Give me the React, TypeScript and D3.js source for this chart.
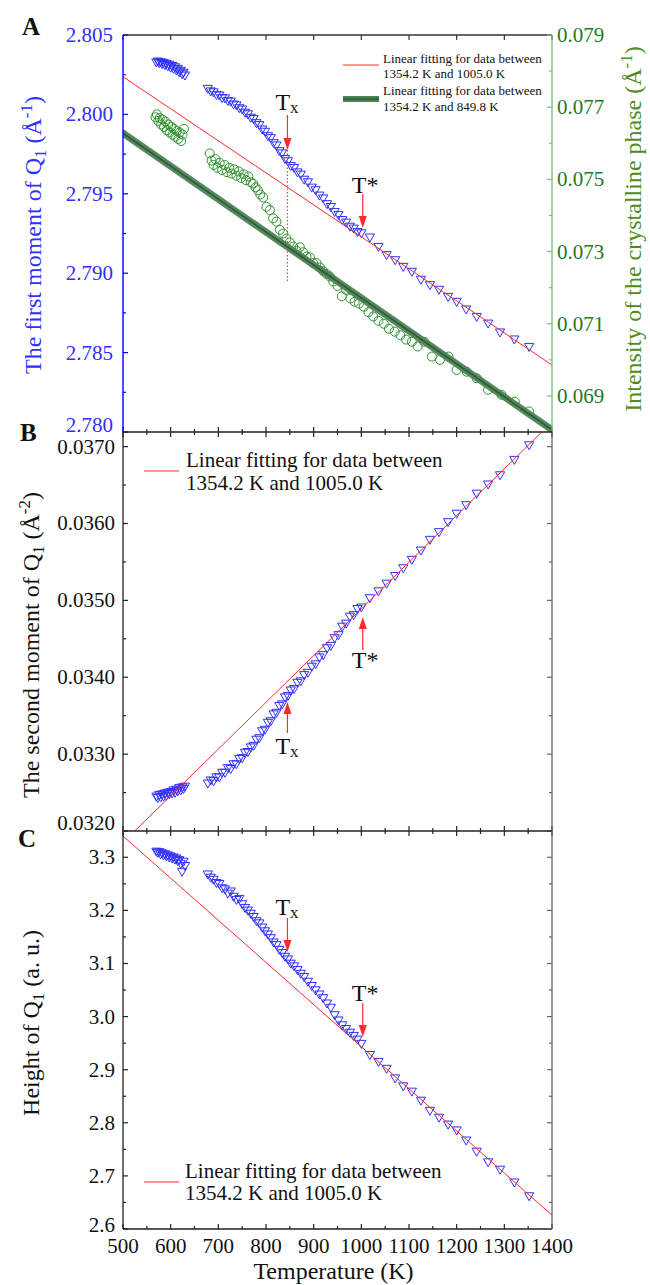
import React from 'react';
import * as d3 from 'd3';

// ---------------- DATA ----------------
// Temperatures (K) of the Q1 measurements (shared by panels A, B, C)
const tempsLow = [570, 573, 576, 579, 582, 585, 588, 591, 594, 597, 600, 603, 606, 609, 612, 615, 618, 621, 624, 627, 630];
const tempsMid = [678, 684, 690, 696, 702, 708, 714, 720, 726, 732, 738, 744, 750, 756, 762, 768, 774, 780, 786, 792, 798, 804, 810, 816, 822, 828, 834, 840, 846, 852, 859, 866, 873, 880, 888, 896, 904, 912, 920, 928, 936, 944, 952, 960, 968, 976, 984, 992, 1000];
const tempsHigh = [1018, 1036, 1053, 1071, 1088, 1106, 1125, 1144, 1163, 1182, 1200, 1220, 1242, 1266, 1291, 1321, 1352];

// Panel A: first moment of Q1 (1/Å)
const firstMomentLow = [2.80328, 2.80334, 2.80324, 2.8033, 2.80318, 2.80326, 2.80312, 2.8032, 2.80304, 2.80314, 2.80296, 2.80306, 2.80288, 2.80298, 2.80278, 2.80288, 2.80266, 2.80276, 2.80254, 2.80264, 2.80246];
const firstMomentMid = [2.80162, 2.80146, 2.8014, 2.80124, 2.8012, 2.80104, 2.80102, 2.80086, 2.80082, 2.80064, 2.80058, 2.8004, 2.80032, 2.80012, 2.80002, 2.7998, 2.79972, 2.79946, 2.79934, 2.79906, 2.79892, 2.79864, 2.79852, 2.7982, 2.79806, 2.7977, 2.79756, 2.7972, 2.79706, 2.79676, 2.79664, 2.79636, 2.79622, 2.7959, 2.79574, 2.7954, 2.79524, 2.7949, 2.79472, 2.79436, 2.79418, 2.79386, 2.79368, 2.79336, 2.7932, 2.79294, 2.79282, 2.7926, 2.79252];
const firstMomentHigh = [2.79226, 2.79167, 2.79115, 2.79083, 2.79041, 2.7901, 2.7896, 2.78926, 2.78897, 2.78852, 2.78821, 2.78773, 2.78726, 2.78684, 2.78628, 2.78584, 2.78537];

// Panel A (right axis): intensity of the crystalline phase
const crystalTemps = [568, 571, 574, 577, 580, 583, 586, 589, 592, 595, 598, 601, 604, 607, 610, 613, 616, 619, 622, 625, 628,
  682, 686, 690, 694, 698, 703, 708, 713, 718, 723, 728, 733, 738, 743, 748, 753, 758, 763, 768, 773, 778, 783, 788, 794,
  801, 808, 815, 822, 829, 836, 843, 850, 857, 864, 871, 878, 885, 892, 899, 906, 913, 920, 927, 934, 941, 950, 959, 968,
  977, 986, 995, 1005, 1015, 1025, 1036, 1047, 1058, 1070, 1082, 1094, 1106, 1118, 1132, 1148, 1165, 1183, 1200, 1221,
  1242, 1266, 1294, 1322, 1352];
const crystalIntensity = [0.07672, 0.0768, 0.07662, 0.0767, 0.07652, 0.07666, 0.07645, 0.0766, 0.07636, 0.07652, 0.0763, 0.07646, 0.07624, 0.0764, 0.07618, 0.07634, 0.07612, 0.0763, 0.07606, 0.07624, 0.0764,
  0.07572, 0.07552, 0.0754, 0.07556, 0.07532, 0.07546, 0.07526, 0.0754, 0.0752, 0.07532, 0.07516, 0.07528, 0.0751, 0.07522, 0.07504, 0.07514, 0.07498, 0.07508, 0.07492, 0.07488, 0.07478, 0.0747, 0.07458, 0.0745,
  0.07424, 0.07415, 0.07392, 0.07383, 0.0736, 0.0735, 0.07336, 0.07325, 0.07314, 0.07302, 0.07312, 0.07298, 0.07286, 0.07284, 0.07268, 0.07268, 0.07256, 0.07246, 0.07238, 0.07231, 0.07217, 0.07205, 0.07176, 0.07194,
  0.0717, 0.07161, 0.07156, 0.07147, 0.07132, 0.0712, 0.07108, 0.071, 0.07086, 0.07078, 0.07068, 0.07056, 0.0705, 0.07037, 0.0705, 0.07009, 0.07, 0.07009, 0.06972, 0.06967,
  0.06949, 0.06917, 0.06903, 0.06884, 0.06857];

// Panel B: second moment of Q1 (1/Å^2)
const secondMomentLow = [0.03245, 0.03243, 0.03247, 0.03244, 0.03248, 0.03245, 0.03249, 0.03246, 0.0325, 0.03248, 0.03251, 0.03249, 0.03253, 0.0325, 0.03254, 0.03252, 0.03256, 0.03253, 0.03257, 0.03255, 0.03258];
const secondMomentMid = [0.03262, 0.03266, 0.03265, 0.0327, 0.0327, 0.03276, 0.03276, 0.03282, 0.03281, 0.03287, 0.03287, 0.03294, 0.03295, 0.03302, 0.03303, 0.03309, 0.03311, 0.03319, 0.03321, 0.0333, 0.03332, 0.03341, 0.03343, 0.03352, 0.03354, 0.03363, 0.03365, 0.03374, 0.03376, 0.03383, 0.03385, 0.03393, 0.03395, 0.03403, 0.03406, 0.03414, 0.03417, 0.03426, 0.03429, 0.03438, 0.03441, 0.03451, 0.03455, 0.03466, 0.0347, 0.03479, 0.03481, 0.03489, 0.03491];
const secondMomentHigh = [0.03503, 0.03512, 0.03522, 0.03532, 0.03542, 0.03553, 0.03565, 0.03579, 0.03589, 0.03602, 0.03613, 0.03624, 0.03639, 0.03651, 0.03663, 0.03683, 0.03702];

// Panel C: height of Q1 (a.u.)
const heightLow = [3.311, 3.309, 3.31, 3.306, 3.308, 3.304, 3.306, 3.302, 3.304, 3.3, 3.302, 3.298, 3.3, 3.296, 3.298, 3.293, 3.295, 3.288, 3.273, 3.292, 3.284];
const heightMid = [3.268, 3.262, 3.258, 3.252, 3.25, 3.242, 3.24, 3.232, 3.236, 3.226, 3.22, 3.222, 3.212, 3.205, 3.2, 3.194, 3.188, 3.18, 3.176, 3.168, 3.161, 3.155, 3.148, 3.14, 3.135, 3.126, 3.12, 3.113, 3.108, 3.1, 3.095, 3.088, 3.081, 3.075, 3.066, 3.058, 3.05, 3.042, 3.035, 3.025, 3.017, 3.003, 2.993, 2.984, 2.977, 2.97, 2.964, 2.957, 2.949];
const heightHigh = [2.928, 2.915, 2.902, 2.884, 2.869, 2.859, 2.842, 2.823, 2.81, 2.797, 2.786, 2.767, 2.746, 2.726, 2.712, 2.688, 2.662];

// Linear fits (end points at 500 K and 1400 K)
const fitFirstMoment: [number, number][] = [[500, 2.80237], [1400, 2.78422]];
const fitCrystal: [number, number][] = [[500, 0.07628], [1400, 0.06806]];
const fitSecondMoment: [number, number][] = [[500, 0.03185], [1400, 0.03732]];
const fitHeight: [number, number][] = [[500, 3.34], [1400, 2.626]];

// Characteristic temperatures
const T_X = 845;
const T_STAR = 1003;

// Tick labels
const tempTicks = [500, 600, 700, 800, 900, 1000, 1100, 1200, 1300, 1400];
const firstMomentTicks = [2.78, 2.785, 2.79, 2.795, 2.8, 2.805];
const crystalTicks = [0.069, 0.071, 0.073, 0.075, 0.077, 0.079];
const secondMomentTicks = [0.032, 0.033, 0.034, 0.035, 0.036, 0.037];
const heightTicks = [2.6, 2.7, 2.8, 2.9, 3.0, 3.1, 3.2, 3.3];

// ---------------- LAYOUT ----------------
const W = 650, H = 1285;
const X0 = 123, X1 = 552;
const FONT = "'Liberation Serif', 'Times New Roman', serif";
const BLUE = '#2f2fff';
const RED = '#ff2a2a';
const GREEN_MARK = '#2f932f';
const GREEN_LABEL = '#1f7a1f';
const GREEN_TITLE = '#4d8c1e';
const GREEN_AXIS = '#7dbf7d';

const temps = [...tempsLow, ...tempsMid, ...tempsHigh];
const pair = (ts: number[], vs: number[]) => ts.slice(0, Math.min(ts.length, vs.length)).map((t, i) => [t, vs[i]] as [number, number]);

function mids(ticks: number[]) {
  const out: number[] = [];
  for (let i = 0; i < ticks.length - 1; i++) out.push((ticks[i] + ticks[i + 1]) / 2);
  return out;
}

function XTicks({ x, y, dir, minor, color = '#222' }: any) {
  const majors = tempTicks;
  const minors = minor ? mids(tempTicks) : [];
  return (
    <g stroke={color} strokeWidth={1.2}>
      {majors.map((t) => <line key={'M' + t} x1={x(t)} x2={x(t)} y1={y} y2={y + dir * 5} />)}
      {minors.map((t) => <line key={'m' + t} x1={x(t)} x2={x(t)} y1={y} y2={y + dir * 3} />)}
    </g>
  );
}

function YTicks({ scale, xPos, dir, majors, minors, color }: any) {
  return (
    <g stroke={color} strokeWidth={1.2}>
      {majors.map((v: number) => <line key={'M' + v} x1={xPos} x2={xPos + dir * 5} y1={scale(v)} y2={scale(v)} />)}
      {minors.map((v: number) => <line key={'m' + v} x1={xPos} x2={xPos + dir * 3} y1={scale(v)} y2={scale(v)} />)}
    </g>
  );
}

function Arrow({ x, y1, y2 }: any) {
  const dir = Math.sign(y2 - y1);
  const hl = 12;
  return (
    <g>
      <line x1={x} x2={x} y1={y1} y2={y2 - dir * hl} stroke={RED} strokeWidth={1.2} />
      <path d={`M${x - 4},${y2 - dir * hl}L${x + 4},${y2 - dir * hl}L${x},${y2}Z`} fill={RED} />
    </g>
  );
}

function TLabel({ x, y, kind }: any) {
  if (kind === 'x') {
    return (
      <text x={x - 12} y={y} fontFamily={FONT} fontSize={24} fill="#111">
        T<tspan fontSize={17} dy={3}>x</tspan>
      </text>
    );
  }
  return (
    <text x={x - 11} y={y} fontFamily={FONT} fontSize={24} fill="#111">T*</text>
  );
}

const tri = (cx: number, cy: number) => `M${cx - 4.6},${cy - 3.3}L${cx + 4.6},${cy - 3.3}L${cx},${cy + 4.7}Z`;

function Triangles({ data, x, y, clip }: any) {
  return (
    <g clipPath={clip} fill="none" stroke={BLUE} strokeWidth={1}>
      {data.map((d: [number, number], i: number) => <path key={i} d={tri(x(d[0]), y(d[1]))} />)}
    </g>
  );
}

export default function App() {
  const x = d3.scaleLinear().domain([500, 1400]).range([X0, X1]);
  const yA = d3.scaleLinear().domain([2.78, 2.805]).range([432, 35]);
  const yAR = d3.scaleLinear().domain([0.068, 0.079]).range([432, 35]);
  const yB = d3.scaleLinear().domain([0.032, 0.03719]).range([831, 432]);
  const yC = d3.scaleLinear().domain([2.6, 3.3495]).range([1229, 831]);

  const dataA = pair(temps, [...firstMomentLow, ...firstMomentMid, ...firstMomentHigh]);
  const dataB = pair(temps, [...secondMomentLow, ...secondMomentMid, ...secondMomentHigh]);
  const dataC = pair(temps, [...heightLow, ...heightMid, ...heightHigh]);
  const dataG = pair(crystalTemps, crystalIntensity);

  const lineA = d3.line<[number, number]>().x((d) => x(d[0])).y((d) => yA(d[1]));
  const lineAR = d3.line<[number, number]>().x((d) => x(d[0])).y((d) => yAR(d[1]));
  const lineB = d3.line<[number, number]>().x((d) => x(d[0])).y((d) => yB(d[1]));
  const lineC = d3.line<[number, number]>().x((d) => x(d[0])).y((d) => yC(d[1]));

  const fA = d3.format('.3f');
  const fB = d3.format('.4f');
  const fC = d3.format('.1f');

  const tickText = { fontFamily: FONT, fontSize: 21 } as any;

  return (
    <svg width={W} height={H} style={{ position: 'absolute', left: 0, top: 0, background: '#fff' }}>
      <defs>
        <clipPath id="clipA"><rect x={X0} y={35} width={X1 - X0} height={397} /></clipPath>
        <clipPath id="clipB"><rect x={X0} y={432} width={X1 - X0} height={399} /></clipPath>
        <clipPath id="clipC"><rect x={X0} y={831} width={X1 - X0} height={398} /></clipPath>
      </defs>
      <rect x={0} y={0} width={W} height={H} fill="#fff" />

      {/* ============ PANEL A ============ */}
      <g clipPath="url(#clipA)" fill="none" stroke={GREEN_MARK} strokeWidth={1}>
        {dataG.map((d, i) => <circle key={i} cx={x(d[0])} cy={yAR(d[1])} r={4.5} />)}
      </g>
      <Triangles data={dataA} x={x} y={yA} clip="url(#clipA)" />
      <g clipPath="url(#clipA)">
        <path d={lineAR(fitCrystal) || ''} stroke="#4c8256" strokeWidth={7} strokeLinecap="round" fill="none" opacity={0.95} />
        <path d={lineAR(fitCrystal) || ''} stroke="#2c5a34" strokeWidth={1.6} fill="none" />
        <path d={lineA(fitFirstMoment) || ''} stroke={RED} strokeWidth={1} fill="none" />
      </g>
      {/* Tx dotted guide */}
      <line x1={x(T_X)} x2={x(T_X)} y1={150} y2={283} stroke="#ff4040" strokeWidth={1.2} strokeDasharray="1.5,2" />
      <Arrow x={x(T_X)} y1={115} y2={150} />
      <TLabel x={x(T_X)} y={110} kind="x" />
      <Arrow x={x(T_STAR)} y1={194} y2={228} />
      <TLabel x={x(T_STAR)} y={193} kind="s" />

      {/* legend A */}
      <line x1={343} x2={379} y1={65} y2={65} stroke={RED} strokeWidth={1} />
      <text x={383} y={63} fontFamily={FONT} fontSize={13} fill="#111">Linear fitting for data between</text>
      <text x={383} y={78} fontFamily={FONT} fontSize={13} fill="#111">1354.2 K and 1005.0 K</text>
      <line x1={343} x2={379} y1={99} y2={99} stroke="#4c8256" strokeWidth={6} />
      <line x1={343} x2={379} y1={99} y2={99} stroke="#2c5a34" strokeWidth={1.5} />
      <text x={383} y={95} fontFamily={FONT} fontSize={13} fill="#111">Linear fitting for data between</text>
      <text x={383} y={111} fontFamily={FONT} fontSize={13} fill="#111">1354.2 K and 849.8 K</text>

      {/* axes A */}
      <line x1={X0} x2={X1} y1={35} y2={35} stroke="#333" strokeWidth={1.3} />
      <XTicks x={x} y={35} dir={1} minor={false} color="#333" />
      <XTicks x={x} y={432} dir={-1} minor={true} />
      <line x1={X0} x2={X0} y1={35} y2={432} stroke="#0000ff" strokeWidth={1.4} />
      <YTicks scale={yA} xPos={X0} dir={1} majors={firstMomentTicks} minors={mids(firstMomentTicks)} color="#0000ff" />
      <line x1={X1} x2={X1} y1={35} y2={432} stroke={GREEN_AXIS} strokeWidth={1.4} />
      <YTicks scale={yAR} xPos={X1} dir={-1} majors={crystalTicks} minors={mids(crystalTicks)} color={GREEN_AXIS} />
      {firstMomentTicks.map((v, i) => (
        <text key={v} x={113} y={yA(v) + 7 - (i === 0 ? 7 : 0)} textAnchor="end" fill={BLUE} {...tickText}>{fA(v)}</text>
      ))}
      {crystalTicks.map((v) => (
        <text key={v} x={557} y={yAR(v) + 7} textAnchor="start" fill={GREEN_LABEL} {...tickText}>{fA(v)}</text>
      ))}
      <text transform={`translate(41,235) rotate(-90)`} textAnchor="middle" fontFamily={FONT} fontSize={24} fill={BLUE}>
        The first moment of Q<tspan fontSize={17} dy={5}>1</tspan><tspan dy={-5}> (Å</tspan><tspan fontSize={17} dy={-9}>-1</tspan><tspan dy={9}>)</tspan>
      </text>
      <text transform={`translate(641,229) rotate(-90)`} textAnchor="middle" fontFamily={FONT} fontSize={24} fill={GREEN_TITLE}>
        Intensity of the crystalline phase (Å<tspan fontSize={17} dy={-9}>-1</tspan><tspan dy={9}>)</tspan>
      </text>
      <text x={22} y={35} fontFamily={FONT} fontSize={25} fontWeight="bold" fill="#111">A</text>

      {/* ============ PANEL B ============ */}
      <Triangles data={dataB} x={x} y={yB} clip="url(#clipB)" />
      <g clipPath="url(#clipB)">
        <path d={lineB(fitSecondMoment) || ''} stroke={RED} strokeWidth={1} fill="none" />
      </g>
      <Arrow x={x(T_X)} y1={733} y2={702} />
      <TLabel x={x(T_X)} y={754} kind="x" />
      <Arrow x={x(T_STAR)} y1={650} y2={617} />
      <TLabel x={x(T_STAR)} y={668} kind="s" />
      <line x1={144} x2={179} y1={471} y2={471} stroke={RED} strokeWidth={1} />
      <text x={186} y={467} fontFamily={FONT} fontSize={21} fill="#111">Linear fitting for data between</text>
      <text x={186} y={490} fontFamily={FONT} fontSize={21} fill="#111">1354.2 K and 1005.0 K</text>

      <XTicks x={x} y={432} dir={1} minor={true} />
      <XTicks x={x} y={831} dir={-1} minor={true} />
      <line x1={X0} x2={X0} y1={432} y2={831} stroke="#222" strokeWidth={1.3} />
      <line x1={X1} x2={X1} y1={432} y2={831} stroke="#666" strokeWidth={1.3} />
      <YTicks scale={yB} xPos={X0} dir={1} majors={secondMomentTicks} minors={mids(secondMomentTicks)} color="#222" />
      <YTicks scale={yB} xPos={X1} dir={-1} majors={secondMomentTicks} minors={mids(secondMomentTicks)} color="#666" />
      {secondMomentTicks.map((v, i) => (
        <text key={v} x={115} y={yB(v) + 7 - (i === 0 ? 8 : 0)} textAnchor="end" fill="#111" {...tickText}>{fB(v)}</text>
      ))}
      <text transform={`translate(39,645) rotate(-90)`} textAnchor="middle" fontFamily={FONT} fontSize={24} fill="#111">
        The second moment of Q<tspan fontSize={17} dy={5}>1</tspan><tspan dy={-5}> (Å</tspan><tspan fontSize={17} dy={-9}>-2</tspan><tspan dy={9}>)</tspan>
      </text>
      <text x={20} y={441} fontFamily={FONT} fontSize={25} fontWeight="bold" fill="#111">B</text>

      {/* ============ PANEL C ============ */}
      <Triangles data={dataC} x={x} y={yC} clip="url(#clipC)" />
      <g clipPath="url(#clipC)">
        <path d={lineC(fitHeight) || ''} stroke={RED} strokeWidth={1} fill="none" />
      </g>
      <Arrow x={x(T_X)} y1={918} y2={952} />
      <TLabel x={x(T_X)} y={915} kind="x" />
      <Arrow x={x(T_STAR)} y1={1003} y2={1037} />
      <TLabel x={x(T_STAR)} y={1001} kind="s" />
      <line x1={144} x2={179} y1={1182} y2={1182} stroke={RED} strokeWidth={1} />
      <text x={185} y={1178} fontFamily={FONT} fontSize={21} fill="#111">Linear fitting for data between</text>
      <text x={185} y={1200} fontFamily={FONT} fontSize={21} fill="#111">1354.2 K and 1005.0 K</text>

      <XTicks x={x} y={831} dir={1} minor={true} />
      <XTicks x={x} y={1229} dir={-1} minor={true} />
      <line x1={X0} x2={X1} y1={432} y2={432} stroke="#222" strokeWidth={1.3} />
      <line x1={X0} x2={X1} y1={831} y2={831} stroke="#222" strokeWidth={1.3} />
      <line x1={X0} x2={X1} y1={1229} y2={1229} stroke="#222" strokeWidth={1.3} />
      <line x1={X0} x2={X0} y1={831} y2={1229} stroke="#222" strokeWidth={1.3} />
      <line x1={X1} x2={X1} y1={831} y2={1229} stroke="#666" strokeWidth={1.3} />
      <YTicks scale={yC} xPos={X0} dir={1} majors={heightTicks} minors={mids(heightTicks)} color="#222" />
      <YTicks scale={yC} xPos={X1} dir={-1} majors={heightTicks} minors={mids(heightTicks)} color="#666" />
      {heightTicks.map((v, i) => (
        <text key={v} x={115} y={yC(v) + 7 - (i === 0 ? 4 : 0)} textAnchor="end" fill="#111" {...tickText}>{fC(v)}</text>
      ))}
      {tempTicks.map((t) => (
        <text key={t} x={x(t)} y={1253} textAnchor="middle" fill="#111" {...tickText}>{t}</text>
      ))}
      <text x={(X0 + X1) / 2 - 4} y={1279} textAnchor="middle" fontFamily={FONT} fontSize={24} fill="#111">Temperature (K)</text>
      <text transform={`translate(39,1023) rotate(-90)`} textAnchor="middle" fontFamily={FONT} fontSize={24} fill="#111">
        Height of Q<tspan fontSize={17} dy={5}>1</tspan><tspan dy={-5}> (a. u.)</tspan>
      </text>
      <text x={18} y={847} fontFamily={FONT} fontSize={25} fontWeight="bold" fill="#111">C</text>
    </svg>
  );
}
